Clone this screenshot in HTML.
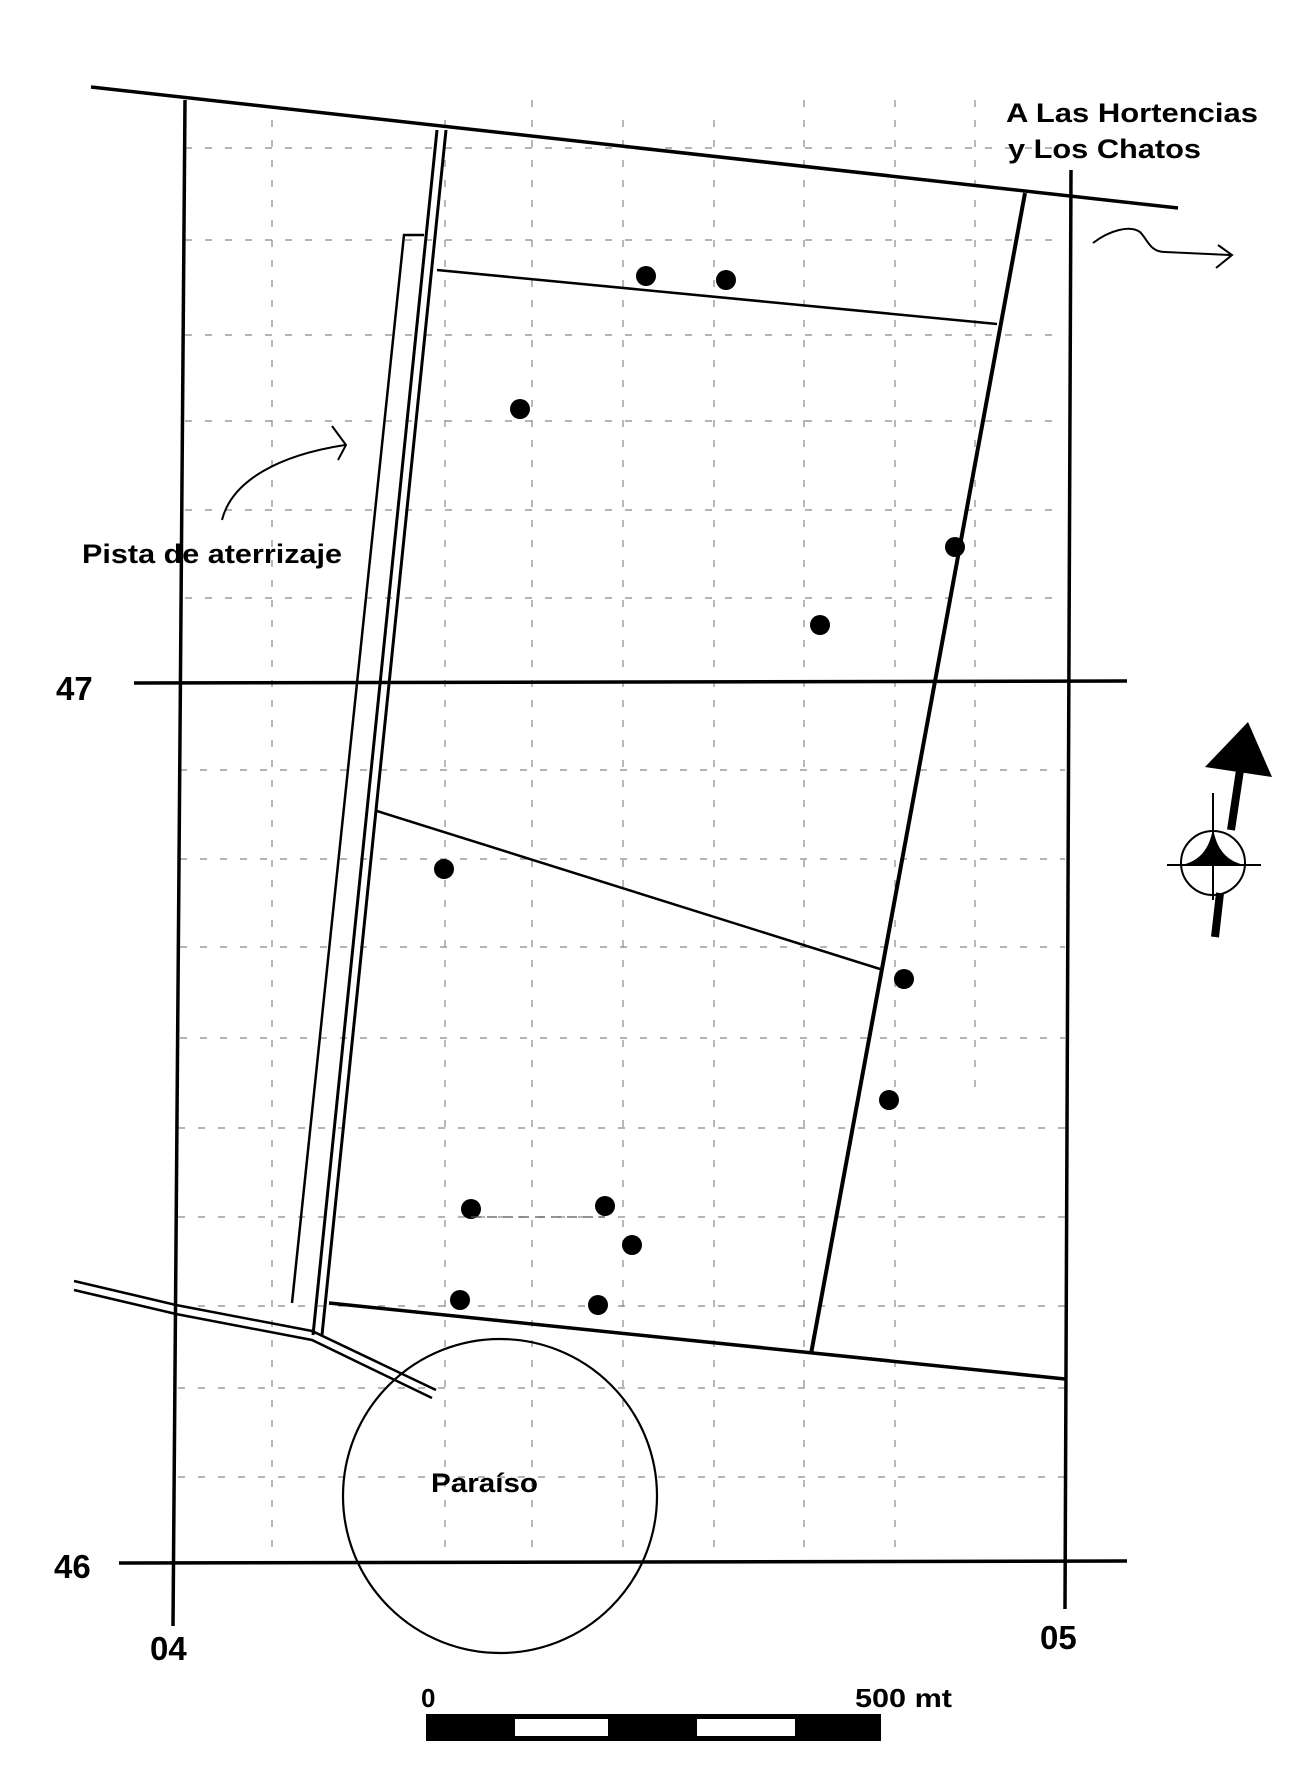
<!DOCTYPE html>
<html><head><meta charset="utf-8"><style>
html,body{margin:0;padding:0;background:#fff;}
svg{display:block;}
text{font-family:"Liberation Sans",sans-serif;font-weight:bold;fill:#000;}
</style></head><body>
<svg width="1314" height="1782" viewBox="0 0 1314 1782" xmlns="http://www.w3.org/2000/svg">
<g stroke="#888" stroke-width="1.2" stroke-dasharray="7,13" fill="none">
<line x1="185" y1="148" x2="1065" y2="148"/>
<line x1="185" y1="240" x2="1065" y2="240"/>
<line x1="185" y1="335" x2="1065" y2="335"/>
<line x1="185" y1="421" x2="1065" y2="421"/>
<line x1="185" y1="510" x2="1065" y2="510"/>
<line x1="185" y1="598" x2="1065" y2="598"/>
<line x1="180" y1="770" x2="1065" y2="770"/>
<line x1="180" y1="859" x2="1065" y2="859"/>
<line x1="180" y1="947" x2="1065" y2="947"/>
<line x1="180" y1="1038" x2="1065" y2="1038"/>
<line x1="178" y1="1128" x2="1065" y2="1128"/>
<line x1="178" y1="1217" x2="1065" y2="1217"/>
<line x1="178" y1="1306" x2="1065" y2="1306"/>
<line x1="178" y1="1388" x2="1065" y2="1388"/>
<line x1="178" y1="1477" x2="1065" y2="1477"/>
<line x1="272" y1="120" x2="272" y2="1560"/>
<line x1="445" y1="120" x2="445" y2="1560"/>
<line x1="532" y1="100" x2="532" y2="1560"/>
<line x1="623" y1="120" x2="623" y2="1560"/>
<line x1="714" y1="120" x2="714" y2="1560"/>
<line x1="804" y1="100" x2="804" y2="1560"/>
<line x1="895" y1="100" x2="895" y2="1560"/>
<line x1="975" y1="100" x2="975" y2="1100"/>
</g>
<g stroke="#000" fill="none">
<line x1="91" y1="87" x2="1178" y2="208" stroke-width="3.5"/>
<line x1="185" y1="100" x2="173" y2="1626" stroke-width="3.5"/>
<line x1="1071" y1="170" x2="1065" y2="1609" stroke-width="3.5"/>
<line x1="134" y1="683" x2="1127" y2="681" stroke-width="3.5"/>
<line x1="119" y1="1563" x2="1127" y2="1561" stroke-width="3.5"/>
<line x1="437" y1="130" x2="313" y2="1335" stroke-width="3"/>
<line x1="446" y1="130" x2="322" y2="1335" stroke-width="3"/>
<polyline points="424,235 404,235 292,1303" stroke-width="2.5"/>
<line x1="1025" y1="193" x2="811" y2="1354" stroke-width="4"/>
<line x1="329" y1="1303" x2="1065" y2="1379" stroke-width="3.5"/>
<line x1="437" y1="270" x2="997" y2="324" stroke-width="2.5"/>
<line x1="377" y1="811" x2="880" y2="969" stroke-width="2.5"/>
<polyline points="74,1281 176,1305 312,1331 436,1390" stroke-width="2.5"/>
<polyline points="74,1290 176,1314 312,1340 432,1398" stroke-width="2.5"/>
<circle cx="500" cy="1496" r="157" stroke-width="2.2"/>
<path d="M1093,243 C1110,230 1130,225 1140,232 C1148,240 1150,252 1165,252 L1230,255" stroke-width="2"/>
<path d="M1218,245 L1232,255 L1216,268" stroke-width="2"/>
<path d="M222,520 C232,480 280,455 345,445" stroke-width="2"/>
<path d="M332,426 L346,445 L338,460" stroke-width="2"/>
</g>
<g fill="#000">
<circle cx="646" cy="276" r="10"/><circle cx="726" cy="280" r="10"/>
<circle cx="520" cy="409" r="10"/><circle cx="955" cy="547" r="10"/>
<circle cx="820" cy="625" r="10"/><circle cx="444" cy="869" r="10"/>
<circle cx="904" cy="979" r="10"/><circle cx="889" cy="1100" r="10"/>
<circle cx="471" cy="1209" r="10"/><circle cx="605" cy="1206" r="10"/>
<circle cx="632" cy="1245" r="10"/><circle cx="460" cy="1300" r="10"/>
<circle cx="598" cy="1305" r="10"/>
</g>
<line x1="471" y1="1217" x2="605" y2="1217" stroke="#555" stroke-width="1.3" stroke-dasharray="10,6"/>
<text x="1006" y="122" font-size="27" textLength="252" lengthAdjust="spacingAndGlyphs">A Las Hortencias</text>
<text x="1008" y="158" font-size="27" textLength="193" lengthAdjust="spacingAndGlyphs">y Los Chatos</text>
<text x="82" y="563" font-size="27" textLength="260" lengthAdjust="spacingAndGlyphs">Pista de aterrizaje</text>
<text x="56" y="700" font-size="33">47</text>
<text x="54" y="1578" font-size="33">46</text>
<text x="150" y="1660" font-size="33">04</text>
<text x="1040" y="1649" font-size="33">05</text>
<text x="431" y="1492" font-size="27" textLength="107" lengthAdjust="spacingAndGlyphs">Paraíso</text>
<text x="421" y="1707" font-size="26">0</text>
<text x="855" y="1707" font-size="26" textLength="97" lengthAdjust="spacingAndGlyphs">500 mt</text>
<rect x="426" y="1714" width="455" height="27" fill="#000"/>
<rect x="515" y="1719" width="93" height="17" fill="#fff"/>
<rect x="697" y="1719" width="98" height="17" fill="#fff"/>
<g>
<circle cx="1213" cy="863" r="32" fill="none" stroke="#000" stroke-width="2"/>
<path d="M1181,865 Q1208,860 1213,828 Q1218,860 1245,865 Z" fill="#000"/>
<line x1="1167" y1="865" x2="1261" y2="865" stroke="#000" stroke-width="2"/>
<line x1="1213" y1="793" x2="1213" y2="900" stroke="#000" stroke-width="2"/>
<line x1="1215" y1="937" x2="1220" y2="893" stroke="#000" stroke-width="8"/>
<line x1="1231" y1="830" x2="1240" y2="770" stroke="#000" stroke-width="8"/>
<polygon points="1248,722 1205,767 1272,777" fill="#000"/>
</g>
</svg>
</body></html>
